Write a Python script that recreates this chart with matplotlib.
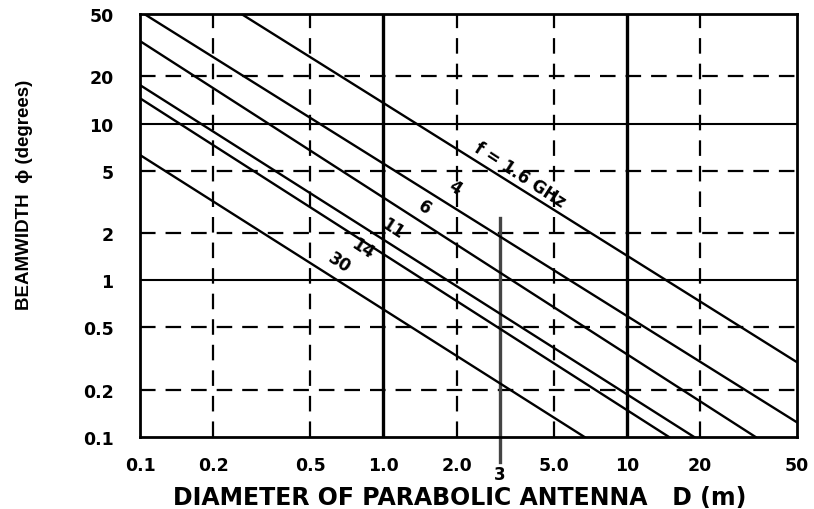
import matplotlib
matplotlib.use("Agg")
import matplotlib.pyplot as plt
from matplotlib.transforms import offset_copy

# ---- data ----
freqs = ["1.6", "4", "6", "11", "14", "30"]
# two end points (D, phi) of each straight line on the log-log chart
line_d_start = [0.261, 0.1, 0.1, 0.1, 0.1, 0.1]
line_phi_start = [50, 52, 33.6, 17.6, 14.5, 6.3]
line_d_end = [50, 50, 33.8, 18.9, 14.9, 6.7]
line_phi_end = [0.30, 0.124, 0.1, 0.1, 0.1, 0.1]
label_texts = ["f = 1.6 GHz", "4", "6", "11", "14", "30"]
label_d = [3.54, 1.91, 1.44, 1.06, 0.80, 0.644]
label_phi = [4.43, 3.72, 2.77, 2.03, 1.52, 1.22]

x_ticks = [0.1, 0.2, 0.5, 1.0, 2.0, 5.0, 10, 20, 50]
x_ticklabels = ["0.1", "0.2", "0.5", "1.0", "2.0", "5.0", "10", "20", "50"]
y_ticks = [0.1, 0.2, 0.5, 1, 2, 5, 10, 20, 50]
y_ticklabels = ["0.1", "0.2", "0.5", "1", "2", "5", "10", "20", "50"]
dashed_x = [0.2, 0.5, 2, 5, 20]
solid_x = [1, 10]
dashed_y = [0.2, 0.5, 2, 5, 20]
solid_y = [1, 10]
marker_d = 3
marker_top = 2.5

plt.rcParams['font.family'] = ['DejaVu Sans']

fig = plt.figure(figsize=(8.14, 5.10), dpi=100)
ax = fig.add_axes([140/814, 1-438/510, (797-140)/814, (438-15)/510])
ax.set_xscale('log')
ax.set_yscale('log')
ax.set_xlim(0.1, 50)
ax.set_ylim(0.1, 50)

dash = (0, (7, 4.5))
for x in dashed_x:
    ax.axvline(x, color='black', lw=1.6, ls=dash, zorder=1)
for y in dashed_y:
    ax.axhline(y, color='black', lw=1.6, ls=dash, zorder=1)
for x in solid_x:
    ax.axvline(x, color='black', lw=2.4, zorder=1)
for y in solid_y:
    ax.axhline(y, color='black', lw=1.5, zorder=1)

for ds, ps, de, pe in zip(line_d_start, line_phi_start, line_d_end, line_phi_end):
    ax.plot([ds, de], [ps, pe], color='black', lw=1.7, zorder=3, clip_on=True)

# labels nudged slightly perpendicular to the lines (up-right)
lab_tr = offset_copy(ax.transData, fig=fig, x=2.0, y=3.0, units='points')
for t, d, p in zip(label_texts, label_d, label_phi):
    ax.text(d, p, t, rotation=-33, rotation_mode='anchor', ha='center',
            va='center', fontsize=12, fontweight='bold', zorder=4,
            transform=lab_tr)

# marker line at D = 3 m extending below the axis
ax.plot([marker_d, marker_d], [marker_top, 0.069], color='#444444', lw=2.4,
        zorder=2, clip_on=False)
ax.text(marker_d, 0.066, "3", ha='center', va='top', fontsize=12,
        fontweight='bold')

ax.set_xticks(x_ticks)
ax.set_xticklabels(x_ticklabels)
ax.set_yticks(y_ticks)
ax.set_yticklabels(y_ticklabels)
ax.minorticks_off()
ax.tick_params(length=0, labelsize=12.5)
for lab in ax.get_xticklabels() + ax.get_yticklabels():
    lab.set_fontweight('bold')
ax.tick_params(axis='y', pad=19)
ax.tick_params(axis='x', pad=14)

for s in ax.spines.values():
    s.set_linewidth(2)
    s.set_zorder(5)

fig.text(460/814, 1-498/510, "DIAMETER OF PARABOLIC ANTENNA   D (m)",
         ha='center', va='center', fontsize=17, fontweight='bold')
fig.text(25/814, 1-195/510, "BEAMWIDTH  \u03d5 (degrees)", rotation=90,
         ha='center', va='center', fontsize=13.5, fontweight='bold',
         family=['Liberation Sans', 'DejaVu Sans'])

fig.savefig("out.png", dpi=100, facecolor='white')
